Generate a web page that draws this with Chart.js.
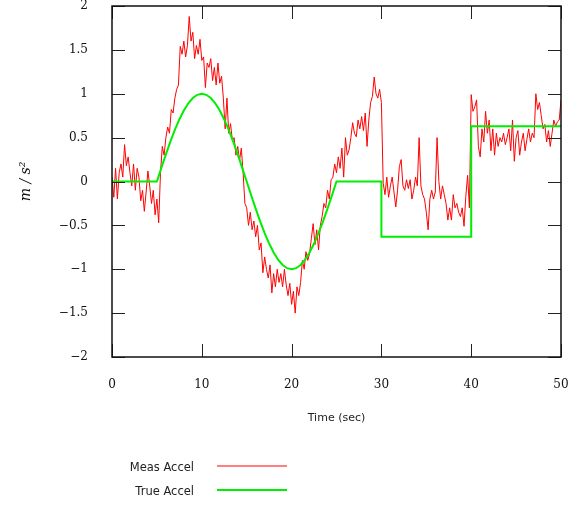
<!DOCTYPE html>
<html>
<head>
<meta charset="utf-8">
<script src="https://cdn.jsdelivr.net/npm/chart.js@4.4.1/dist/chart.umd.min.js"></script>
<style>
  html, body { margin: 0; padding: 0; background: #ffffff; }
  #wrap { width: 571px; height: 506px; position: relative; }
</style>
</head>
<body>
<div id="wrap"><canvas id="c" width="571" height="506"></canvas></div>
<script>
// ---- data ----
const measStep = 0.2; // seconds between measured samples
const measAccel = [
  0.05, -0.18, 0.15, -0.2, 0.1,
  0.2, 0.05, 0.42, 0.18, 0.28,
  0.1, -0.05, 0.2, -0.1, 0.15,
  0.05, -0.22, -0.1, -0.34, -0.12,
  0.12, -0.05, -0.25, -0.1, -0.38,
  -0.2, -0.47, 0.1, 0.4, 0.3,
  0.5, 0.62, 0.55, 0.82, 0.78,
  0.95, 1.05, 1.1, 1.54, 1.45,
  1.6, 1.42, 1.55, 1.88, 1.6,
  1.7, 1.4, 1.55, 1.45, 1.62,
  1.38, 1.42, 1.07, 1.35, 1.3,
  1.4, 1.15, 1.3, 1.1, 1.35,
  1.12, 1.2, 0.95, 0.6, 0.95,
  0.55, 0.66, 0.47, 0.5, 0.3,
  0.4, 0.24, 0.38, 0.1, -0.25,
  -0.3, -0.5, -0.35, -0.55, -0.45,
  -0.63, -0.5, -0.78, -0.7, -1.04,
  -0.86, -1.0, -1.1, -0.95, -1.27,
  -1.05, -1.2, -1.0, -1.15, -1.05,
  -1.2, -1.0, -1.18, -1.3, -1.16,
  -1.4, -1.25, -1.5, -1.2, -1.3,
  -1.15, -0.9, -1.0, -0.8, -0.9,
  -0.82, -0.65, -0.48, -0.72, -0.55,
  -0.78, -0.5, -0.4, -0.25, -0.3,
  -0.1, -0.2, 0.02, 0.05, 0.2,
  0.1, 0.28, 0.15, 0.38, 0.05,
  0.5, 0.3, 0.36, 0.5, 0.67,
  0.55, 0.51, 0.7, 0.6, 0.74,
  0.58, 0.78, 0.4, 0.7, 0.9,
  0.97, 1.19, 1.0, 0.95, 1.05,
  0.9, -0.02, -0.15, 0.05, -0.18,
  -0.05, 0.05, -0.12, -0.29, -0.1,
  0.17, 0.25, -0.05, -0.1, 0.02,
  -0.08, 0.02, -0.2, -0.1, 0.05,
  -0.05, 0.5, -0.05, -0.15, -0.2,
  -0.35, -0.55, -0.2, -0.1, -0.2,
  -0.12, 0.5, 0.0, -0.2, -0.05,
  -0.15, -0.25, -0.44, -0.3, -0.44,
  -0.15, -0.3, -0.25, -0.35, -0.4,
  -0.3, -0.51, -0.17, 0.07, -0.3,
  0.99, 0.8, 0.85, 0.93, 0.4,
  0.28, 0.6, 0.45, 0.8, 0.55,
  0.7, 0.35, 0.6, 0.3, 0.55,
  0.4, 0.5, 0.45, 0.55, 0.42,
  0.5, 0.6, 0.35, 0.7, 0.23,
  0.5, 0.58, 0.3, 0.45, 0.55,
  0.35, 0.48, 0.6, 0.45, 0.55,
  0.5, 1.0, 0.82, 0.9, 0.75,
  0.6, 0.65, 0.45, 0.58, 0.4,
  0.55, 0.7, 0.63, 0.68, 0.7,
  0.93
];

const trueTime = [
  0, 5, 5.5, 6, 6.5, 7, 7.5, 8, 8.5, 9, 9.5, 10, 10.5, 11, 11.5, 12, 12.5, 13, 13.5, 14, 14.5,
  15, 15.5, 16, 16.5, 17, 17.5, 18, 18.5, 19, 19.5, 20, 20.5, 21, 21.5, 22, 22.5, 23, 23.5, 24, 24.5,
  25, 30, 30, 40, 40, 50
];
const trueAccel = [
  0, 0, 0.156, 0.309, 0.454, 0.588, 0.707, 0.809, 0.891, 0.951, 0.988, 1, 0.988, 0.951, 0.891, 0.809, 0.707, 0.588, 0.454, 0.309, 0.156,
  0, -0.156, -0.309, -0.454, -0.588, -0.707, -0.809, -0.891, -0.951, -0.988, -1, -0.988, -0.951, -0.891, -0.809, -0.707, -0.588, -0.454, -0.309, -0.156,
  0, 0, -0.63, -0.63, 0.63, 0.63
];

const xTicks = [0, 10, 20, 30, 40, 50];
const yTicks = [-2, -1.5, -1, -0.5, 0, 0.5, 1, 1.5, 2];
const seriesNames = ['Meas Accel', 'True Accel'];

// ---- build datasets ----
const measPoints = measAccel.map((v, i) => ({ x: i * measStep, y: v }));
const truePoints = trueTime.map((t, i) => ({ x: t, y: trueAccel[i] }));

const fmt = v => String(v).replace('-', '\u2212');

const frameAndTicks = {
  id: 'frameAndTicks',
  afterDatasetsDraw(chart) {
    const { ctx, chartArea: a, scales } = chart;
    const len = 13;
    ctx.save();
    ctx.strokeStyle = '#222';
    ctx.lineWidth = 1;
    ctx.beginPath();
    scales.x.ticks.forEach(t => {
      const px = Math.round(scales.x.getPixelForValue(t.value)) + 0.5;
      ctx.moveTo(px, a.bottom); ctx.lineTo(px, a.bottom - len);
      ctx.moveTo(px, a.top); ctx.lineTo(px, a.top + len);
    });
    scales.y.ticks.forEach(t => {
      const py = Math.round(scales.y.getPixelForValue(t.value)) + 0.5;
      ctx.moveTo(a.left, py); ctx.lineTo(a.left + len, py);
      ctx.moveTo(a.right, py); ctx.lineTo(a.right - len, py);
    });
    ctx.stroke();
    ctx.lineWidth = 1.5;
    ctx.strokeStyle = '#111';
    ctx.strokeRect(a.left, a.top, a.right - a.left, a.bottom - a.top);
    ctx.restore();
  },
  afterDraw(chart) {
    const { ctx } = chart;
    const rows = [466, 490];
    ctx.save();
    ctx.font = '11.5px "DejaVu Sans"';
    ctx.textAlign = 'right';
    ctx.textBaseline = 'middle';
    ctx.fillStyle = '#222';
    [0, 1].forEach(k => {
      const ds = chart.data.datasets.find(d => d.label === seriesNames[k]);
      ctx.fillText(ds.label, 194, rows[k] + 2);
      ctx.strokeStyle = ds.borderColor;
      ctx.lineWidth = ds.borderWidth;
      ctx.beginPath();
      ctx.moveTo(217, rows[k]);
      ctx.lineTo(287, rows[k]);
      ctx.stroke();
    });
    ctx.restore();
  }
};

new Chart(document.getElementById('c'), {
  type: 'line',
  data: {
    datasets: [
      {
        label: seriesNames[0],
        data: measPoints,
        borderColor: '#ff0000',
        borderWidth: 1,
        pointRadius: 0,
        tension: 0,
        order: 2
      },
      {
        label: seriesNames[1],
        data: truePoints,
        borderColor: '#00ee00',
        borderWidth: 2,
        pointRadius: 0,
        tension: 0,
        order: 1
      }
    ]
  },
  options: {
    responsive: false,
    animation: false,
    events: [],
    layout: { padding: { left: 0, right: 10, top: 6, bottom: 0 } },
    plugins: {
      legend: { display: false },
      tooltip: { enabled: false },
      title: { display: false }
    },
    scales: {
      x: {
        type: 'linear',
        min: 0, max: 50,
        afterBuildTicks: s => { s.ticks = xTicks.map(v => ({ value: v })); },
        afterFit: s => { s.height = 149; s.paddingLeft = 0; s.paddingRight = 0; },
        grid: { display: false },
        border: { display: false },
        ticks: {
          padding: 13,
          color: '#111',
          font: { family: '"DejaVu Serif"', size: 12 },
          callback: v => fmt(v)
        },
        title: {
          display: true,
          text: 'Time (sec)',
          color: '#222',
          font: { family: '"DejaVu Sans"', size: 11 },
          padding: { top: 0, bottom: 81 }
        }
      },
      y: {
        type: 'linear',
        min: -2, max: 2,
        afterBuildTicks: s => { s.ticks = yTicks.map(v => ({ value: v })); },
        afterFit: s => { s.width = 112; s.paddingTop = 0; s.paddingBottom = 0; },
        grid: { display: false },
        border: { display: false },
        ticks: {
          padding: 16,
          color: '#111',
          font: { family: '"DejaVu Serif"', size: 12 },
          callback: v => fmt(v)
        },
        title: {
          display: true,
          text: 'm / s\u00b2',
          color: '#111',
          font: { family: '"DejaVu Serif"', size: 14, style: 'italic' },
          padding: { top: 18, bottom: 0 }
        }
      }
    }
  },
  plugins: [frameAndTicks]
});
</script>
</body>
</html>
